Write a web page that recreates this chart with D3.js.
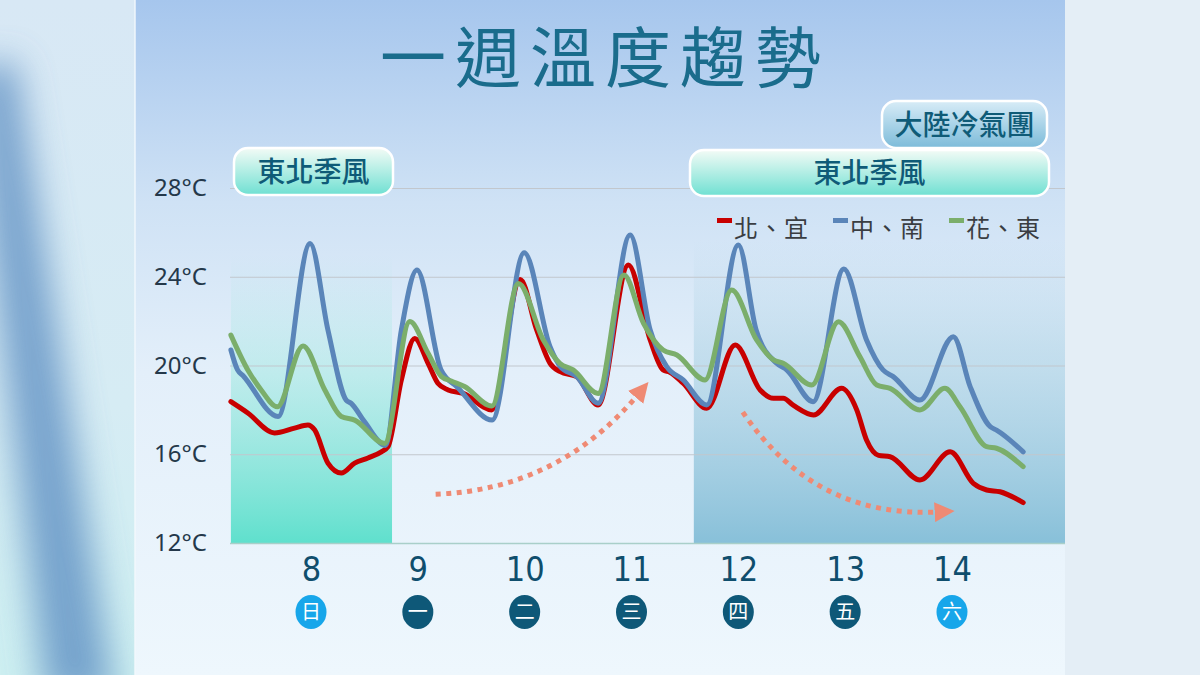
<!DOCTYPE html>
<html><head><meta charset="utf-8">
<script src="https://cdn.jsdelivr.net/npm/d3@7"></script>
<style>body{margin:0;background:#e5eff7}svg{display:block}</style>
</head><body>
<svg id="c" width="1200" height="675"></svg>
<script>
// ---- data (hours from day 8 00:00, temperature °C) ----
const days = [8, 9, 10, 11, 12, 13, 14];
const weekdays = ["日", "一", "二", "三", "四", "五", "六"];
const yTicks = [12, 16, 20, 24, 28];

const redHours = [-6,-2.2,3.8,8.3,11.3,12.8,15.8,18.8,21.8,24.8,27.8,29.3,32.3,35.3,38.3,40.5,42.8,46.2,52.6,59,62.7,65.7,68,71.7,76.5,83.3,88.2,91.1,92.6,95.6,100.9,107.3,112.9,115.9,118.1,120.4,124.9,131.2,134.6,136.8,139.5,142.1,148.8,155.6,160.8,163.8,166.8,172];
const redTemps = [18.37,17.86,16.96,17.18,17.32,17.1,15.6,15.15,15.6,15.83,16.11,16.34,19.35,21.22,20.1,19.2,18.9,18.74,18.0,23.88,21.6,20.1,19.72,19.5,18.22,24.53,21.15,19.8,19.7,19.2,18.07,20.92,18.9,18.52,18.52,18.2,17.77,18.97,18.0,16.64,15.95,15.89,14.84,16.11,14.69,14.39,14.31,13.82];

const blueHours = [-6,-4.5,-3.3,4.6,11.8,15.8,19.9,21,24,28.7,32.3,35.8,41.2,45,52.7,59.9,65.7,68,71.7,76.5,83.7,88.2,91.9,95.6,100.9,108,112,116.6,118.9,124.8,131.7,136.8,140.5,142.8,148.8,156.3,160.1,164.6,166,172];
const blueTemps = [20.7,19.8,19.55,17.7,25.5,21.6,18.44,18.3,17.47,16.4,21.6,24.3,19.8,19.0,17.54,25.08,20.85,19.95,19.5,18.3,25.88,21.6,19.95,19.35,18.22,25.43,21.6,20.1,19.8,18.37,24.35,21.15,19.8,19.5,18.44,21.3,19.04,17.24,17.09,16.11];

const greenHours = [-6,-2.2,0.8,4.4,10.2,15.1,18.8,21.8,28.5,34.2,38.3,41.3,43.5,46.5,52.6,58.6,64.2,67.9,70.9,76.5,82.3,86.7,91.1,94.2,100.5,106.5,112.1,115.9,118.1,124.5,130.5,135.3,139.1,142.1,148.8,154.4,157.8,163.8,166,172];
const greenTemps = [21.37,19.8,18.9,18.14,20.88,18.9,17.7,17.54,16.49,21.98,20.55,19.5,19.3,19.05,18.17,23.7,21.15,20.1,19.8,18.74,24.08,21.9,20.7,20.47,19.35,23.4,21.15,20.25,20.1,19.12,21.97,20.4,19.12,18.97,18.0,18.97,18.14,16.34,16.27,15.44];

const seriesNames = ["北、宜", "中、南", "花、東"];
const seriesColors = ["#c80000", "#5a85b9", "#7bae6b"];

// ---- setup ----
const svg = d3.select("#c");
const defs = svg.append("defs");
function grad(id, stops, vertical = true) {
  const g = defs.append("linearGradient").attr("id", id)
    .attr("x1", 0).attr("y1", 0).attr("x2", vertical ? 0 : 1).attr("y2", vertical ? 1 : 0);
  stops.forEach(s => g.append("stop").attr("offset", s[0]).attr("stop-color", s[1]).attr("stop-opacity", s[2] ?? 1));
}
grad("panelG", [[0, "#a6c6ed"], [0.3, "#cfe2f5"], [0.55, "#e3effa"], [1, "#eef7fd"]]);
grad("leftG", [[0, "#d8e8f5"], [0.6, "#d6ecf4"], [1, "#cdeff1"]]);
grad("tealG", [[0, "#9fe8df", 0], [0.35, "#8fe6da", 0.35], [1, "#5fe0cd", 1]]);
grad("blueG", [[0, "#b5d6e7", 0], [0.35, "#a9d0e3", 0.5], [1, "#88c0d9", 1]]);
grad("boxTeal", [[0, "#f3fbf6"], [1, "#6fe0d2"]]);
grad("boxBlue", [[0, "#d8ecf7"], [1, "#7cbbd9"]]);
defs.append("filter").attr("id", "blur").attr("x", "-50%").attr("y", "-50%").attr("width", "200%").attr("height", "200%")
  .append("feGaussianBlur").attr("stdDeviation", 18);
defs.append("clipPath").attr("id", "leftClip").append("rect").attr("x", 0).attr("y", 0).attr("width", 135).attr("height", 675);
const mk = defs.append("marker").attr("id", "arrowHead").attr("viewBox", "0 0 10 10")
  .attr("refX", 2).attr("refY", 5).attr("markerWidth", 4).attr("markerHeight", 4)
  .attr("markerUnits", "strokeWidth").attr("orient", "auto");
mk.append("path").attr("d", "M0,0 L10,5 L0,10 Z").attr("fill", "#ef8a74");

// background
svg.append("rect").attr("width", 1200).attr("height", 675).attr("fill", "#e4eef6");
const left = svg.append("g").attr("clip-path", "url(#leftClip)");
left.append("rect").attr("width", 135).attr("height", 675).attr("fill", "url(#leftG)");
left.append("path").attr("d", "M-30,70 L15,60 L115,700 L45,700 Z").attr("fill", "#5f90c3").attr("opacity", 0.8).attr("filter", "url(#blur)");
svg.append("rect").attr("x", 135).attr("width", 930).attr("height", 675).attr("fill", "url(#panelG)");
svg.append("rect").attr("x", 134).attr("width", 2).attr("height", 675).attr("fill", "#f2f8fc").attr("opacity", 0.7);

// scales
const x = d3.scaleLinear().domain([0, 168]).range([257.6, 1005.4]);
const y = d3.scaleLinear().domain([12, 28]).range([543, 188]);
const plotLeft = 230, plotRight = 1065;

// shaded periods
svg.append("rect").attr("x", x(-6)).attr("y", 255).attr("width", x(30.2) - x(-6)).attr("height", y(12) - 255).attr("fill", "url(#tealG)");
svg.append("rect").attr("x", x(98)).attr("y", 240).attr("width", plotRight - x(98)).attr("height", y(12) - 240).attr("fill", "url(#blueG)");

// y axis with grid
const yAxis = svg.append("g").attr("transform", `translate(${plotLeft},0)`)
  .call(d3.axisLeft(y).tickValues(yTicks).tickSize(-(plotRight - plotLeft)).tickPadding(23).tickFormat(d => d + "°C"));
yAxis.select(".domain").remove();
yAxis.selectAll(".tick line").attr("stroke", "#c2c7cd").attr("stroke-width", 1.2);
yAxis.selectAll(".tick text").attr("fill", "#24384a").attr("font-size", 24)
  .attr("font-family", "'Noto Sans','Open Sans',sans-serif");
yAxis.selectAll(".tick").filter(d => d === 12).select("line").attr("stroke", "#a9cfc9").attr("stroke-width", 1.5);

// x axis (days)
const xAxis = svg.append("g").attr("transform", `translate(0,${y(12)})`)
  .call(d3.axisBottom(x).tickValues(days.map((d, i) => 12 + 24 * i)).tickSize(0).tickPadding(14).tickFormat((d, i) => days[i]));
xAxis.select(".domain").remove();
xAxis.selectAll(".tick text").attr("fill", "#0f4e6d").attr("font-size", 34).attr("dy", "0.71em")
  .attr("font-family", "'Liberation Sans Narrow','DejaVu Sans Condensed',sans-serif");

// weekday circles
const wd = svg.append("g").selectAll("g").data(weekdays).join("g")
  .attr("transform", (d, i) => `translate(${x(12 + 24 * i)},612)`);
wd.append("ellipse").attr("rx", 15.5).attr("ry", 17).attr("fill", (d, i) => (i === 0 || i === 6) ? "#17a6ea" : "#0e5878");
wd.append("text").text(d => d).attr("text-anchor", "middle").attr("dy", "0.36em")
  .attr("fill", "#fff").attr("font-size", 20).attr("font-family", "'Noto Sans CJK TC',sans-serif");

// arrows (annotation curves)
function qPath(p0, c, p1) { const p = d3.path(); p.moveTo(p0[0], p0[1]); p.quadraticCurveTo(c[0], c[1], p1[0], p1[1]); return p.toString(); }
svg.append("path").attr("d", qPath([x(40), y(14.2)], [x(67.5), y(14.4)], [x(85.5), y(18.7)]))
  .attr("fill", "none").attr("stroke", "#ef8a74").attr("stroke-width", 5).attr("stroke-dasharray", "5 5.5").attr("marker-end", "url(#arrowHead)");
svg.append("path").attr("d", qPath([x(109), y(17.9)], [x(125.2), y(13.1)], [x(153), y(13.4)]))
  .attr("fill", "none").attr("stroke", "#ef8a74").attr("stroke-width", 5).attr("stroke-dasharray", "5 5.5").attr("marker-end", "url(#arrowHead)");

// lines
const line = d3.line().x(d => x(d[0])).y(d => y(d[1])).curve(d3.curveMonotoneX);
const series = [
  d3.zip(redHours, redTemps),
  d3.zip(blueHours, blueTemps),
  d3.zip(greenHours, greenTemps)
];
svg.append("g").selectAll("path").data(series).join("path")
  .attr("d", line).attr("fill", "none").attr("stroke", (d, i) => seriesColors[i])
  .attr("stroke-width", 5).attr("stroke-linejoin", "round").attr("stroke-linecap", "round");

// legend
const legendX = [717, 833, 949];
const lg = svg.append("g").selectAll("g").data(seriesNames).join("g")
  .attr("transform", (d, i) => `translate(${legendX[i]},0)`);
lg.append("rect").attr("x", 0).attr("y", 218).attr("width", 15).attr("height", 5).attr("fill", (d, i) => seriesColors[i]);
lg.append("text").text(d => d).attr("x", 17).attr("y", 237).attr("font-size", 24).attr("letter-spacing", 1)
  .attr("fill", "#3a3d42").attr("font-family", "'Noto Sans CJK TC',sans-serif");

// period labels
function box(x0, y0, w, h, fill, label) {
  svg.append("rect").attr("x", x0).attr("y", y0).attr("width", w).attr("height", h).attr("rx", 14)
    .attr("fill", fill).attr("stroke", "#ffffff").attr("stroke-width", 2.5);
  svg.append("text").text(label).attr("x", x0 + w / 2).attr("y", y0 + h / 2).attr("dy", "0.36em")
    .attr("text-anchor", "middle").attr("font-size", 28).attr("font-weight", 500)
    .attr("fill", "#0f5b77").attr("font-family", "'Noto Sans CJK TC',sans-serif");
}
box(234, 148, 159, 47, "url(#boxTeal)", "東北季風");
box(882, 101, 165, 47, "url(#boxBlue)", "大陸冷氣團");
box(690, 150, 359, 46, "url(#boxTeal)", "東北季風");

// title
svg.append("text").text("一週溫度趨勢").attr("x", 605).attr("y", 82).attr("text-anchor", "middle")
  .attr("font-size", 66).attr("letter-spacing", 9).attr("font-weight", 400)
  .attr("fill", "#1a6c8c").attr("font-family", "'Noto Sans CJK TC',sans-serif");
</script>
</body></html>
